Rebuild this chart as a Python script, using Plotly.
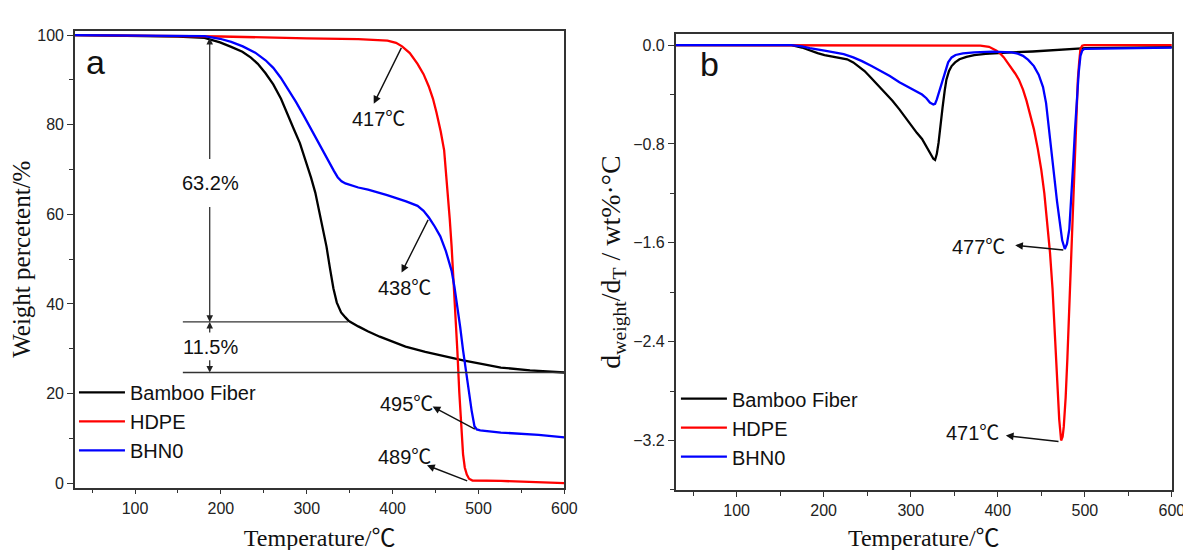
import plotly.graph_objects as go

# ---------------- data: panel a (TGA) ----------------
bf_tga_T = [30, 100, 150, 181, 199, 212, 225, 235, 243, 252, 261, 270, 278, 285, 292, 299, 305, 310, 314, 319,
            323, 327, 331, 335, 340, 345, 349, 360, 371, 385, 394, 415, 438, 460, 482, 505, 526, 560, 600]
bf_tga_W = [100, 99.9, 99.7, 99.4, 98.4, 97.4, 96.3, 95.0, 93.6, 91.5, 89, 85.8, 82, 79, 75.9, 72, 68.2, 64.8, 61.2, 57,
            52.8, 48, 43.5, 40.3, 38.1, 37, 36.2, 35, 33.9, 32.7, 32, 30.5, 29.3, 28.3, 27.4, 26.6, 25.8, 25.2, 24.7]

hd_tga_T = [30, 100, 200, 300, 360, 394, 404, 411, 420, 429, 436, 442, 447, 451, 456, 460, 464.3, 466.5, 468.7, 471,
            473.2, 475.4, 477.6, 480, 482, 484, 486.4, 489, 493, 526, 560, 600]
hd_tga_W = [100, 99.9, 99.7, 99.3, 99.1, 98.8, 98.3, 97.5, 96, 93.6, 91.3, 88.6, 85.8, 82.8, 78.5, 74.3, 65.1, 59, 52.8, 45.5,
            38.1, 29.5, 20.4, 12.5, 6.5, 3.5, 1.9, 1.0, 0.6, 0.5, 0.3, 0.0]

bh_tga_T = [30, 150, 181, 199, 212, 225.5, 240, 252, 261, 269.7, 278, 287.4, 296, 305, 312, 318.4, 325, 331.6, 336, 340.5,
            345, 349.3, 360, 371.4, 393.6, 415.7, 429, 436, 442.2, 449, 455.5, 462, 468.7, 472, 475.4, 478.7, 482, 485.3,
            488.6, 492, 495.3, 498, 502, 526, 570, 600]
bh_tga_W = [100, 99.9, 99.8, 99.2, 98.5, 97.5, 96.1, 94.4, 92.7, 90.5, 88, 85.1, 82.2, 79, 76.6, 74.3, 71.8, 69.7, 68.3, 67.4,
            66.9, 66.6, 66, 65.5, 64.3, 62.9, 61.9, 60.8, 59.3, 57.3, 55.1, 51.8, 47.4, 43.8, 39.7, 34.8, 29.7, 25,
            20.4, 16.2, 12.7, 12.0, 11.8, 11.3, 10.8, 10.2]

# ---------------- data: panel b (DTG) ----------------
bf_dtg_T = [30, 100, 163, 175, 184, 193, 201, 214, 227, 234, 240, 247, 253, 262, 270, 279, 287, 294, 300, 307, 313, 318,
            322, 326, 328, 330, 332, 334, 336.5, 339, 341, 344, 347, 351, 356, 364, 373, 386, 399, 416, 440, 459, 480,
            493, 501, 550, 600]
bf_dtg_D = [0, 0, 0, -0.02, -0.045, -0.065, -0.081, -0.10, -0.115, -0.14, -0.17, -0.21, -0.255, -0.32, -0.38, -0.45, -0.52,
            -0.59, -0.65, -0.71, -0.76, -0.82, -0.87, -0.92, -0.93, -0.88, -0.79, -0.65, -0.51, -0.37, -0.28, -0.21, -0.17,
            -0.14, -0.115, -0.095, -0.081, -0.072, -0.065, -0.059, -0.052, -0.045, -0.037, -0.03, -0.025, -0.02, -0.017]

hd_dtg_T = [30, 100, 200, 300, 380, 390, 398.6, 403, 407, 411, 415.8, 420, 424.3, 429, 433, 437, 441.5, 446, 450, 453.5,
            456.5, 460, 462.9, 465, 467.2, 469, 470.6, 472.8, 474.5, 475.8, 478, 480, 482, 484.3, 486.5, 488.6, 490.5,
            492, 493.5, 495, 497, 499.3, 550, 600]
hd_dtg_D = [0, 0, 0, 0, -0.005, -0.014, -0.045, -0.07, -0.10, -0.14, -0.185, -0.23, -0.28, -0.36, -0.45, -0.56, -0.68,
            -0.84, -1.01, -1.2, -1.40, -1.68, -1.97, -2.25, -2.53, -2.8, -3.03, -3.2, -3.17, -3.09, -2.85, -2.53, -2.15,
            -1.69, -1.25, -0.84, -0.5, -0.28, -0.14, -0.03, -0.005, 0, 0, 0]

bh_dtg_T = [30, 163, 175, 184, 201, 223, 234, 244, 255, 266, 276, 287, 300, 313, 318, 322, 326, 328, 330, 333, 336.5, 340,
            343, 347, 351.5, 360, 373, 394, 408, 416, 423, 429, 435, 441.5, 447, 452, 455.5, 458.6, 462, 465, 468, 471.5,
            474, 477, 479.5, 482.2, 484.5, 486.5, 488.6, 490.8, 493, 495, 497, 499.3, 550, 600]
bh_dtg_D = [0, 0, -0.01, -0.025, -0.045, -0.073, -0.10, -0.13, -0.17, -0.21, -0.25, -0.30, -0.35, -0.40, -0.43, -0.465,
            -0.48, -0.475, -0.44, -0.37, -0.28, -0.19, -0.14, -0.10, -0.08, -0.068, -0.059, -0.053, -0.055, -0.059, -0.07,
            -0.087, -0.12, -0.17, -0.24, -0.34, -0.47, -0.65, -0.86, -1.07, -1.26, -1.46, -1.58, -1.65, -1.61, -1.49,
            -1.25, -0.98, -0.70, -0.42, -0.22, -0.087, -0.045, -0.03, -0.025, -0.02]

series_names = ["Bamboo Fiber", "HDPE", "BHN0"]
series_colors = ["#000000", "#ff0000", "#0000ff"]

# annotation labels (panel a): text, text position, arrow head, arrow tail
a_labels = ["417℃", "438℃", "495℃", "489℃"]
a_text_xy = [(383.4, 81.3), (413.5, 43.5), (416.6, 17.7), (413.5, 5.8)]
a_head_xy = [(378, 84.7), (410.4, 47.0), (446.6, 17.1), (440, 4.0)]
a_tail_xy = [(411, 97.5), (442.2, 59.1), (497.5, 11.9), (488.6, 0.4)]

b_labels = ["477℃", "471℃"]
b_text_xy = [(378, -1.63), (370.7, -3.14)]
b_head_xy = [(420, -1.62), (409.3, -3.16)]
b_tail_xy = [(477, -1.66), (471.5, -3.21)]

# mass-loss steps (panel a)
step_x = 187
step_levels = [99.4, 36.0, 24.7]
step_labels = ["63.2%", "11.5%"]
step_label_y = [67.0, 30.4]
step_line_start = 155.7
step_line_ends = [348, 600]

fig = go.Figure()

tga = [(bf_tga_T, bf_tga_W), (hd_tga_T, hd_tga_W), (bh_tga_T, bh_tga_W)]
dtg = [(bf_dtg_T, bf_dtg_D), (hd_dtg_T, hd_dtg_D), (bh_dtg_T, bh_dtg_D)]

for (T, W), name, col in zip(tga, series_names, series_colors):
    fig.add_trace(go.Scatter(x=T, y=W, mode="lines", name=name, line=dict(color=col, width=2.3),
                             xaxis="x", yaxis="y", legend="legend"))
for (T, D), name, col in zip(dtg, series_names, series_colors):
    fig.add_trace(go.Scatter(x=T, y=D, mode="lines", name=name, line=dict(color=col, width=2.3),
                             xaxis="x2", yaxis="y2", legend="legend2"))

sans = "Liberation Sans, Arial, Noto Sans CJK SC"
serif = "Liberation Serif, Times New Roman, Noto Sans CJK SC"
ann_font = dict(family=sans, size=20, color="#111111")

annotations = []
shapes = []

def add_labels(labels, txy, hxy, lxy, xr, yr):
    for lab, (tx, ty), (hx, hy), (lx, ly) in zip(labels, txy, hxy, lxy):
        annotations.append(dict(x=tx, y=ty, xref=xr, yref=yr, text=lab, showarrow=False, font=ann_font))
        annotations.append(dict(x=hx, y=hy, ax=lx, ay=ly, xref=xr, yref=yr, axref=xr, ayref=yr, text="",
                                showarrow=True, arrowhead=2, arrowsize=1.1, arrowwidth=1.4, arrowcolor="#111111"))

add_labels(a_labels, a_text_xy, a_head_xy, a_tail_xy, "x", "y")
add_labels(b_labels, b_text_xy, b_head_xy, b_tail_xy, "x2", "y2")

# step arrows and labels
for lab, ly in zip(step_labels, step_label_y):
    annotations.append(dict(x=step_x + 1, y=ly, xref="x", yref="y", text=lab, showarrow=False, font=ann_font))
arrow_pairs = [(step_levels[0], 72.0), (step_levels[1], 62.0), (step_levels[1], 33.3), (step_levels[2], 27.8)]
for hy, ty in arrow_pairs:
    annotations.append(dict(x=step_x, y=hy, ax=step_x, ay=ty, xref="x", yref="y", axref="x", ayref="y", text="",
                            showarrow=True, arrowhead=2, arrowsize=1.1, arrowwidth=1.2, arrowcolor="#222222"))
for lvl, xe in zip(step_levels[1:], step_line_ends):
    shapes.append(dict(type="line", xref="x", yref="y", x0=step_line_start, x1=xe, y0=lvl, y1=lvl,
                       line=dict(color="#333333", width=1.3)))

annotations.append(dict(x=54, y=94.0, xref="x", yref="y", text="a", showarrow=False,
                        font=dict(family=sans, size=34, color="#111111")))
annotations.append(dict(x=68.6, y=-0.15, xref="x2", yref="y2", text="b", showarrow=False,
                        font=dict(family=sans, size=34, color="#111111")))

axis_common = dict(showline=True, mirror=True, linecolor="#333333", linewidth=1.5, ticks="outside",
                   tickcolor="#333333", tickwidth=1.3, showgrid=False, zeroline=False,
                   tickfont=dict(family=sans, size=16, color="#222222"))

fig.update_layout(
    width=1191, height=550, autosize=False,
    margin=dict(l=0, r=0, t=0, b=0),
    paper_bgcolor="white", plot_bgcolor="white",
    showlegend=True,
    xaxis=dict(domain=[0.0568, 0.4723], range=[30, 600], tick0=0, dtick=100, ticklen=5,
               minor=dict(ticks="outside", dtick=50, ticklen=4, tickcolor="#333333"),
               title=dict(text="Temperature/℃", font=dict(family=serif, size=24, color="#111111"), standoff=14),
               anchor="y", **axis_common),
    yaxis=dict(domain=[0.1224, 0.9655], range=[-1, 101], tick0=0, dtick=20, ticklen=6,
               minor=dict(ticks="outside", dtick=10, ticklen=4, tickcolor="#333333"),
               title=dict(text="Weight percetent/%", font=dict(family=serif, size=25, color="#111111"), standoff=3),
               anchor="x", **axis_common),
    xaxis2=dict(domain=[0.5668, 0.988], range=[30, 600], tick0=0, dtick=100, ticklen=5,
                minor=dict(ticks="outside", dtick=50, ticklen=4, tickcolor="#333333"),
                title=dict(text="Temperature/℃", font=dict(family=serif, size=24, color="#111111"), standoff=11),
                anchor="y2", **axis_common),
    yaxis2=dict(domain=[0.1182, 0.9595], range=[-3.6, 0.09], tick0=0, dtick=0.8, tickformat=".1f", ticklen=6,
                minor=dict(ticks="outside", dtick=0.4, ticklen=4, tickcolor="#333333"),
                title=dict(text="d<sub>weight</sub>/d<sub>T</sub> / wt%·°C",
                           font=dict(family=serif, size=28, color="#111111"), standoff=4),
                anchor="x2", **axis_common),
    legend=dict(x=0.056, y=0.334, xanchor="left", yanchor="top", bgcolor="rgba(0,0,0,0)", itemwidth=46,
                font=dict(family=sans, size=20, color="#111111"), tracegroupgap=0),
    legend2=dict(x=0.567, y=0.3225, xanchor="left", yanchor="top", bgcolor="rgba(0,0,0,0)", itemwidth=46,
                 font=dict(family=sans, size=20, color="#111111"), tracegroupgap=0),
    annotations=annotations,
    shapes=shapes,
)

fig.write_html("out.html")
